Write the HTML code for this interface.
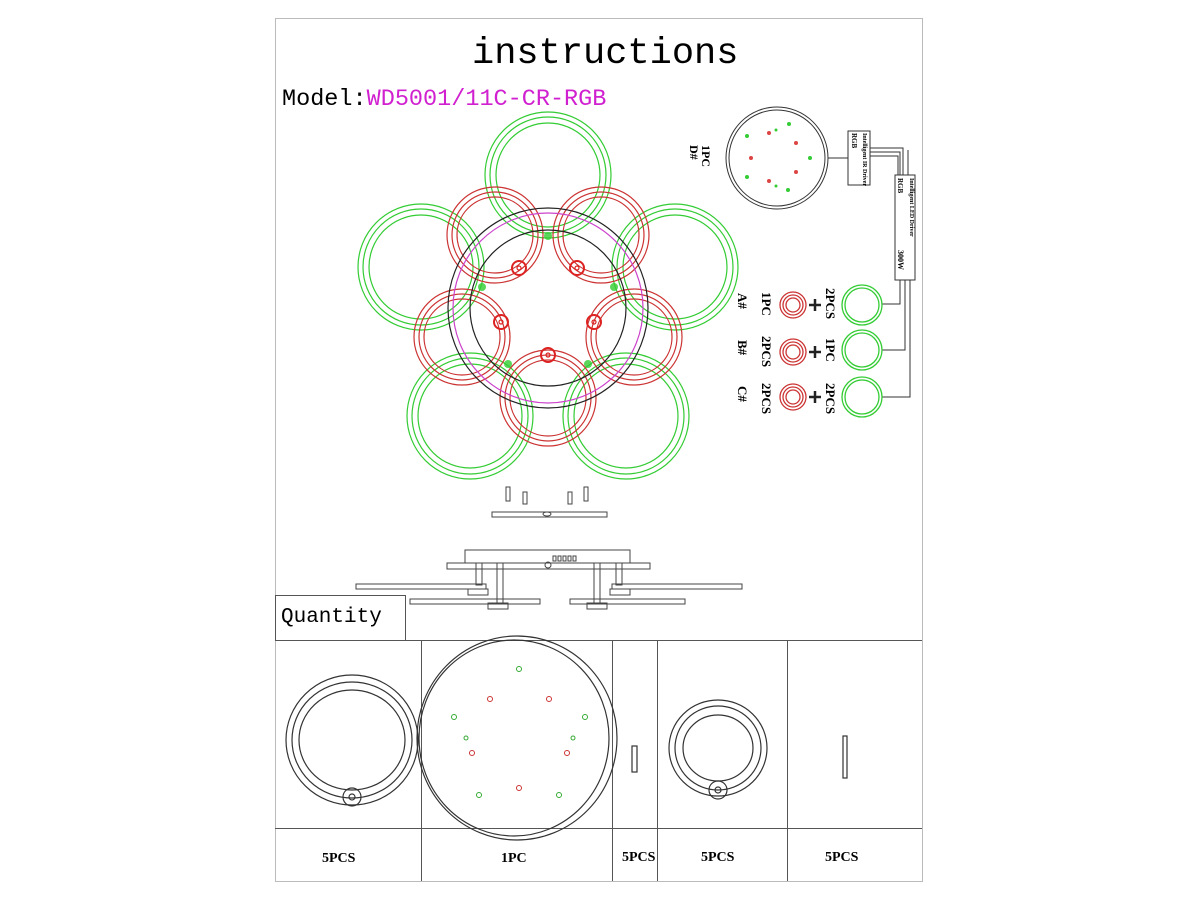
<!DOCTYPE html>
<html><head><meta charset="utf-8"><style>
html,body{margin:0;padding:0;background:#fff;}
svg{display:block;}
text{font-family:"Liberation Mono",monospace;}
.s{font-family:"Liberation Serif",serif;font-weight:bold;}
</style></head><body>
<svg width="1200" height="900" viewBox="0 0 1200 900" xmlns="http://www.w3.org/2000/svg">
<rect x="275.5" y="18.5" width="647" height="863" fill="none" stroke="#bbb"/>
<text x="472" y="63" font-size="37">instructions</text>
<text x="282" y="105" font-size="23.5">Model:<tspan fill="#d020d0">WD5001/11C-CR-RGB</tspan></text>

<g fill="none" stroke-width="1.2">
<g stroke="#3c3">
<g transform="translate(548,175)"><circle r="63"/><circle r="58"/><circle r="52"/></g>
<g transform="translate(421,267)"><circle r="63"/><circle r="58"/><circle r="52"/></g>
<g transform="translate(675,267)"><circle r="63"/><circle r="58"/><circle r="52"/></g>
<g transform="translate(470,416)"><circle r="63"/><circle r="58"/><circle r="52"/></g>
<g transform="translate(626,416)"><circle r="63"/><circle r="58"/><circle r="52"/></g>
</g>
<g stroke="#c33">
<g transform="translate(495,235)"><circle r="48"/><circle r="43"/><circle r="38"/></g>
<g transform="translate(601,235)"><circle r="48"/><circle r="43"/><circle r="38"/></g>
<g transform="translate(462,337)"><circle r="48"/><circle r="43"/><circle r="38"/></g>
<g transform="translate(634,337)"><circle r="48"/><circle r="43"/><circle r="38"/></g>
<g transform="translate(548,398)"><circle r="48"/><circle r="43"/><circle r="38"/></g>
</g>
<circle cx="548" cy="308" r="95" stroke="#c4c"/>
<circle cx="548" cy="308" r="100" stroke="#222"/>
<circle cx="548" cy="308" r="78" stroke="#222"/>
<g stroke="#d22" stroke-width="2">
<circle cx="519" cy="268" r="7"/><circle cx="577" cy="268" r="7"/><circle cx="501" cy="322" r="7"/><circle cx="594" cy="322" r="7"/><circle cx="548" cy="355" r="7"/>
</g>
<g stroke="#d22"><circle cx="519" cy="268" r="2"/><circle cx="577" cy="268" r="2"/><circle cx="501" cy="322" r="2"/><circle cx="594" cy="322" r="2"/><circle cx="548" cy="355" r="2"/></g>
</g>
<g fill="#3c3" opacity="0.8">
<circle cx="548" cy="236" r="4"/><circle cx="482" cy="287" r="4"/><circle cx="614" cy="287" r="4"/><circle cx="508" cy="364" r="4"/><circle cx="588" cy="364" r="4"/>
</g>

<g fill="none" stroke="#333" stroke-width="1">
<circle cx="777" cy="158" r="51"/><circle cx="777" cy="158" r="48"/>
<line x1="828" y1="158" x2="848" y2="158"/>
<rect x="848" y="131" width="22" height="54"/>
<rect x="895" y="175" width="20" height="105"/>
<polyline points="870,148 903,148 903,175"/><polyline points="870,152 900,152 900,175"/><polyline points="870,156 898,156 898,175"/><line x1="908" y1="150" x2="908" y2="175"/>
<polyline points="900,280 900,304 882,304"/>
<polyline points="905,280 905,350 882,350"/>
<polyline points="910,280 910,397 882,397"/>
</g>
<g fill="#3c3"><circle cx="747" cy="136" r="2"/><circle cx="789" cy="124" r="2"/><circle cx="810" cy="158" r="2"/><circle cx="747" cy="177" r="2"/><circle cx="788" cy="190" r="2"/><circle cx="776" cy="130" r="1.5"/><circle cx="776" cy="186" r="1.5"/></g>
<g fill="#d44"><circle cx="769" cy="133" r="2"/><circle cx="796" cy="143" r="2"/><circle cx="751" cy="158" r="2"/><circle cx="796" cy="172" r="2"/><circle cx="769" cy="181" r="2"/></g>
<text class="s" font-size="12" transform="translate(702,145) rotate(90)">1PC</text>
<text class="s" font-size="12" transform="translate(690,145) rotate(90)">D#</text>
<text class="s" font-size="7" transform="translate(852,133) rotate(90)">RGB</text>
<text class="s" font-size="6" transform="translate(863,133) rotate(90)">Intelligent IR Driver</text>
<text class="s" font-size="7" transform="translate(898,178) rotate(90)">RGB</text>
<text class="s" font-size="6" transform="translate(910,178) rotate(90)">Intelligent LED Driver</text>
<text class="s" font-size="8" transform="translate(898,250) rotate(90)">300W</text>
<g fill="none" stroke-width="1.3">
<g stroke="#c33"><circle cx="793" cy="305" r="13"/><circle cx="793" cy="305" r="10"/><circle cx="793" cy="305" r="7"/>
<circle cx="793" cy="352" r="13"/><circle cx="793" cy="352" r="10"/><circle cx="793" cy="352" r="7"/>
<circle cx="793" cy="397" r="13"/><circle cx="793" cy="397" r="10"/><circle cx="793" cy="397" r="7"/></g>
<g stroke="#3c3"><circle cx="862" cy="305" r="20"/><circle cx="862" cy="305" r="17"/>
<circle cx="862" cy="350" r="20"/><circle cx="862" cy="350" r="17"/>
<circle cx="862" cy="397" r="20"/><circle cx="862" cy="397" r="17"/></g>
</g>
<g stroke="#222" stroke-width="2.5"><path d="M809 305h12M815 299v12M809 352h12M815 346v12M809 397h12M815 391v12"/></g>
<g class="s" font-size="13">
<text class="s" transform="translate(738,293) rotate(90)">A#</text>
<text class="s" transform="translate(738,340) rotate(90)">B#</text>
<text class="s" transform="translate(738,386) rotate(90)">C#</text>
<text class="s" transform="translate(762,292) rotate(90)">1PC</text>
<text class="s" transform="translate(762,336) rotate(90)">2PCS</text>
<text class="s" transform="translate(762,383) rotate(90)">2PCS</text>
<text class="s" transform="translate(826,288) rotate(90)">2PCS</text>
<text class="s" transform="translate(826,338) rotate(90)">1PC</text>
<text class="s" transform="translate(826,383) rotate(90)">2PCS</text>
</g>

<g fill="none" stroke="#444" stroke-width="1">
<rect x="492" y="512" width="115" height="5"/>
<rect x="506" y="487" width="4" height="14"/><rect x="584" y="487" width="4" height="14"/>
<rect x="523" y="492" width="4" height="12"/><rect x="568" y="492" width="4" height="12"/>
<ellipse cx="547" cy="514" rx="4" ry="2"/>
<rect x="465" y="550" width="165" height="13"/>
<rect x="447" y="563" width="203" height="6"/>
<rect x="356" y="584" width="130" height="5"/><rect x="612" y="584" width="130" height="5"/>
<rect x="410" y="599" width="130" height="5"/><rect x="570" y="599" width="115" height="5"/>
<rect x="476" y="563" width="6" height="22"/><rect x="497" y="563" width="6" height="40"/>
<rect x="594" y="563" width="6" height="40"/><rect x="616" y="563" width="6" height="22"/>
<rect x="468" y="589" width="20" height="6"/><rect x="488" y="603" width="20" height="6"/>
<rect x="587" y="603" width="20" height="6"/><rect x="610" y="589" width="20" height="6"/>
<circle cx="548" cy="565" r="3"/>
<rect x="553" y="556" width="3" height="5"/><rect x="558" y="556" width="3" height="5"/><rect x="563" y="556" width="3" height="5"/><rect x="568" y="556" width="3" height="5"/><rect x="573" y="556" width="3" height="5"/>
</g>

<g fill="none" stroke="#555" stroke-width="1">
<rect x="275.5" y="595.5" width="130" height="45"/>
<line x1="275" y1="640.5" x2="922" y2="640.5"/>
<line x1="275" y1="828.5" x2="922" y2="828.5"/>
<line x1="421.5" y1="640" x2="421.5" y2="881"/>
<line x1="612.5" y1="640" x2="612.5" y2="881"/>
<line x1="657.5" y1="640" x2="657.5" y2="881"/>
<line x1="787.5" y1="640" x2="787.5" y2="881"/>
</g>
<text x="281" y="622" font-size="21">Quantity</text>
<g fill="none" stroke="#333" stroke-width="1.2">
<ellipse cx="352" cy="740" rx="66" ry="65"/><ellipse cx="352" cy="740" rx="60" ry="58"/><ellipse cx="352" cy="740" rx="53" ry="50"/>
<circle cx="352" cy="797" r="9"/><circle cx="352" cy="797" r="3"/>
<ellipse cx="517" cy="738" rx="100" ry="102"/><ellipse cx="514" cy="738" rx="95" ry="98"/>
<rect x="632" y="746" width="5" height="26"/>
<ellipse cx="718" cy="748" rx="49" ry="48"/><ellipse cx="718" cy="748" rx="43" ry="42"/><ellipse cx="718" cy="748" rx="35" ry="33"/>
<circle cx="718" cy="790" r="9"/><circle cx="718" cy="790" r="3"/>
<rect x="843" y="736" width="4" height="42"/>
</g>
<g fill="none" stroke-width="1">
<g stroke="#3a3"><circle cx="519" cy="669" r="2.5"/><circle cx="454" cy="717" r="2.5"/><circle cx="585" cy="717" r="2.5"/><circle cx="479" cy="795" r="2.5"/><circle cx="559" cy="795" r="2.5"/><circle cx="466" cy="738" r="2"/><circle cx="573" cy="738" r="2"/></g>
<g stroke="#c33"><circle cx="490" cy="699" r="2.5"/><circle cx="549" cy="699" r="2.5"/><circle cx="472" cy="753" r="2.5"/><circle cx="567" cy="753" r="2.5"/><circle cx="519" cy="788" r="2.5"/></g>
</g>
<g class="s" font-size="14">
<text class="s" x="322" y="862">5PCS</text>
<text class="s" x="501" y="862">1PC</text>
<text class="s" x="622" y="861">5PCS</text>
<text class="s" x="701" y="861">5PCS</text>
<text class="s" x="825" y="861">5PCS</text>
</g>
</svg>
</body></html>
